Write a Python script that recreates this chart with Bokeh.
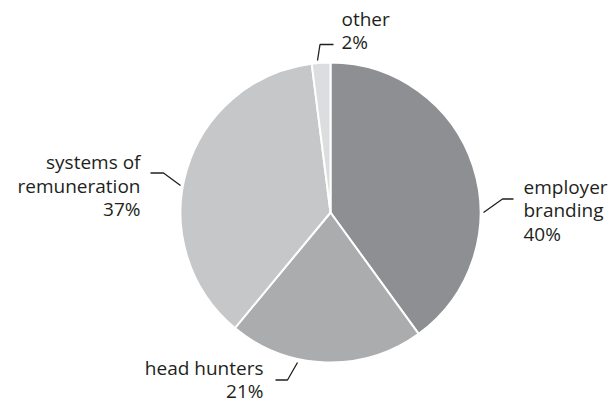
import math
from bokeh.plotting import figure
from bokeh.models import Range1d
from bokeh.core.properties import value
from bokeh.embed import file_html
from bokeh.resources import INLINE

# data
categories = ["employer branding", "head hunters", "systems of remuneration", "other"]
shares = [40, 21, 37, 2]
label_lines = [["employer", "branding", "40%"], ["head hunters", "21%"],
               ["systems of", "remuneration", "37%"], ["other", "2%"]]
colors = ["#8e8f92", "#abacae", "#c6c7c9", "#dcdddf"]

W, H = 616, 403
def Y(py):
    return H - py

p = figure(width=W, height=H, output_backend="svg", toolbar_location=None,
           x_range=Range1d(0, W), y_range=Range1d(0, H), min_border=0)
p.axis.visible = False
p.grid.visible = False
p.outline_line_color = None
p.background_fill_color = "white"
p.border_fill_color = "white"

cx, cy, r = 330, Y(212), 150
total = sum(shares)
start = math.pi / 2
starts, ends = [], []
for v in shares:
    end = start - 2 * math.pi * v / total
    starts.append(start)
    ends.append(end)
    start = end

p.wedge(x=[cx] * len(shares), y=[cy] * len(shares), radius=r,
        start_angle=starts, end_angle=ends, direction="clock",
        fill_color=colors, line_color="white", line_width=2)

# leader lines (layout)
leaders = [
    [(483, 212), (502, 198.5), (513, 198.5)],
    [(297, 362), (287, 379.5), (275, 379.5)],
    [(180, 185), (163, 172.5), (150, 172.5)],
    [(317, 60), (319.5, 44), (333, 44)],
]
p.multi_line(xs=[[pt[0] for pt in l] for l in leaders],
             ys=[[Y(pt[1]) for pt in l] for l in leaders],
             line_color="#231f20", line_width=1.3)

# labels (layout: anchor x, first-line y, align)
anchors = [(523, 186, "left"), (263, 367, "right"), (140, 161.5, "right"), (341, 18, "left")]
step = 23.5
tx, ty, ta, tt = [], [], [], []
for lines, (ax, ay, al) in zip(label_lines, anchors):
    for i, s in enumerate(lines):
        tx.append(ax); ty.append(Y(ay + i * step)); ta.append(al); tt.append(s)
for al in ("left", "right"):
    idx = [i for i in range(len(tt)) if ta[i] == al]
    p.text(x=[tx[i] for i in idx], y=[ty[i] for i in idx], text=[tt[i] for i in idx],
           text_align=al, text_baseline="middle", text_font=value("Open Sans"),
           text_font_size="19px", text_color="#231f20")

open("out.html", "w").write(file_html(p, INLINE))
